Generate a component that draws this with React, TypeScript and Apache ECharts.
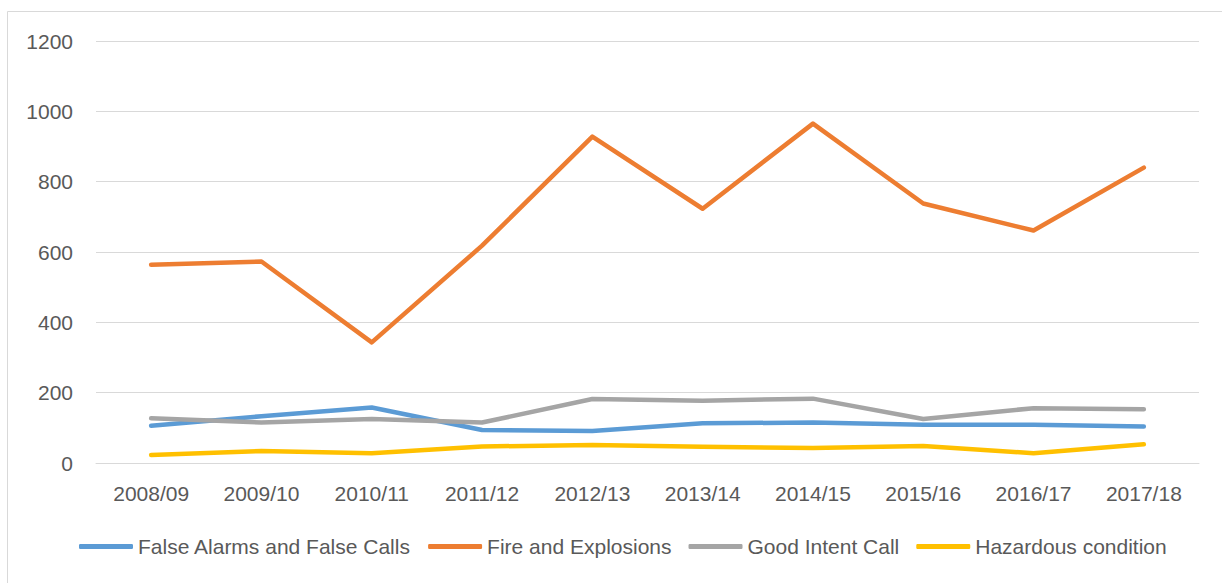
import React, { useEffect, useRef } from "react";
import * as echarts from "echarts";

const categories = ["2008/09", "2009/10", "2010/11", "2011/12", "2012/13", "2013/14", "2014/15", "2015/16", "2016/17", "2017/18"];
const falseAlarms = [106, 133, 158, 94, 91, 113, 115, 109, 109, 104];
const fireExplosions = [564, 573, 343, 618, 928, 723, 965, 738, 661, 840];
const goodIntent = [127, 115, 125, 115, 182, 177, 183, 125, 156, 153];
const hazardous = [23, 34, 28, 47, 51, 46, 43, 48, 28, 53];
const yTicks = { min: 0, max: 1200, interval: 200 };

const seriesNames = ["False Alarms and False Calls", "Fire and Explosions", "Good Intent Call", "Hazardous condition"];
const seriesColors = ["#5B9BD5", "#ED7D31", "#A5A5A5", "#FFC000"];
const seriesData = [falseAlarms, fireExplosions, goodIntent, hazardous];

const FONT = "'Liberation Sans', Arial, sans-serif";

export default function App() {
  const ref = useRef<HTMLDivElement>(null);
  useEffect(() => {
    if (!ref.current) return;
    const chart = echarts.init(ref.current, null, { renderer: "svg" });
    chart.setOption({
      animation: false,
      backgroundColor: "#ffffff",
      graphic: [
        {
          type: "rect",
          shape: { x: 7.5, y: 11.5, width: 1240, height: 620 },
          style: { fill: "none", stroke: "#D9D9D9", lineWidth: 1 },
          silent: true,
        },
      ],
      grid: { left: 96, right: 23, top: 41, bottom: 120 },
      legend: {
        bottom: 21,
        left: 74,
        itemWidth: 54,
        itemHeight: 5,
        itemGap: 17,
        icon: "roundRect",
        textStyle: { fontFamily: FONT, fontSize: 21, color: "#595959" },
        data: seriesNames,
      },
      xAxis: {
        type: "category",
        data: categories,
        boundaryGap: true,
        axisLine: { show: true, lineStyle: { color: "#D9D9D9", width: 1 } },
        axisTick: { show: false },
        axisLabel: { fontFamily: FONT, fontSize: 21, color: "#595959", margin: 20 },
      },
      yAxis: {
        type: "value",
        min: yTicks.min,
        max: yTicks.max,
        interval: yTicks.interval,
        axisLine: { show: false },
        axisTick: { show: false },
        splitLine: { lineStyle: { color: "#D9D9D9", width: 1 } },
        axisLabel: { fontFamily: FONT, fontSize: 21, color: "#595959", margin: 23, formatter: (v: number) => String(v) },
      },
      series: seriesNames.map((name, i) => ({
        name,
        type: "line",
        data: seriesData[i],
        symbol: "none",
        color: seriesColors[i],
        lineStyle: { width: 4.5, color: seriesColors[i], cap: "round", join: "round" },
      })),
    });
    return () => chart.dispose();
  }, []);
  return <div ref={ref} style={{ position: "absolute", left: 0, top: 0, width: 1222, height: 583 }} />;
}
